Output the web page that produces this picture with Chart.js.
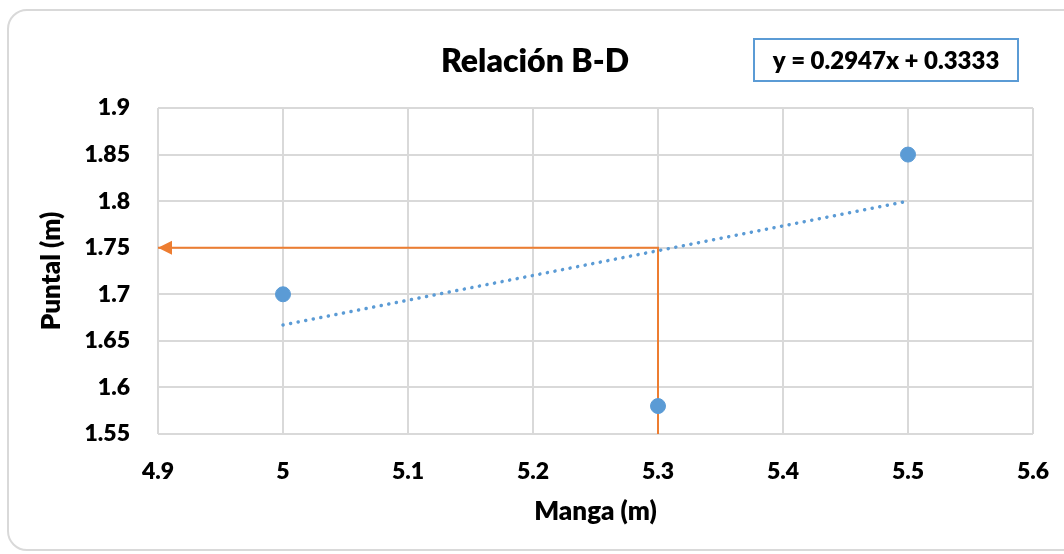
<!DOCTYPE html>
<html>
<head>
<meta charset="utf-8">
<script src="https://cdn.jsdelivr.net/npm/chart.js@4.4.1/dist/chart.umd.min.js"></script>
<style>
  html, body { margin: 0; padding: 0; background: #fff; }
  body { width: 1064px; height: 554px; position: relative; overflow: hidden; }
  #frame {
    position: absolute; left: 7px; top: 9px; width: 1120px; height: 542px;
    border: 2px solid #d9d9d9; border-radius: 20px; box-sizing: border-box;
  }
  #wrap { position: absolute; left: 0; top: 0; width: 1064px; height: 554px; }
</style>
</head>
<body>
<div id="frame"></div>
<div id="wrap"><canvas id="chart" width="1064" height="554"></canvas></div>
<script>
// Measured beam (manga) and depth (puntal) of the reference boats, in metres
const manga = [5.0, 5.3, 5.5];
const puntal = [1.70, 1.58, 1.85];

// Linear trend drawn between the extreme beams
const trendX = [5.0, 5.5];
const trendY = [1.667, 1.80];

// Projection read for a beam of 5.3 m: vertical up to the trend, then across to the depth axis
const projX = [4.9, 5.3, 5.3];
const projY = [1.75, 1.75, 1.55];

const chartTitle = 'Relación B-D';
const equation = 'y = 0.2947x + 0.3333';
const xTitle = 'Manga (m)';
const yTitle = 'Puntal (m)';

const FONT = 'Lato, "Open Sans", sans-serif';
const WEIGHT = '800';
const BLUE = '#5b9bd5';
const ORANGE = '#ed7d31';
const GRID = '#d9d9d9';

const toPoints = (xs, ys) => xs.map((x, i) => ({ x: x, y: ys[i] }));
const fmt = v => String(Number(v.toFixed(2)));

// Title, equation box and the arrowhead on the projection line
const overlay = {
  id: 'overlay',
  afterDatasetsDraw(chart) {
    const ctx = chart.ctx;
    const xs = chart.scales.x, ys = chart.scales.y;

    // arrowhead at the start of the horizontal projection
    const tipX = xs.getPixelForValue(projX[0]);
    const tipY = ys.getPixelForValue(projY[0]);
    ctx.save();
    ctx.fillStyle = ORANGE;
    ctx.beginPath();
    ctx.moveTo(tipX, tipY);
    ctx.lineTo(tipX + 14, tipY - 7);
    ctx.lineTo(tipX + 14, tipY + 7);
    ctx.closePath();
    ctx.fill();
    ctx.restore();
  },
  afterDraw(chart) {
    const ctx = chart.ctx;
    ctx.save();
    ctx.fillStyle = '#000';
    ctx.textAlign = 'center';
    ctx.textBaseline = 'middle';
    ctx.font = WEIGHT + ' 32px ' + FONT;
    ctx.fillText(chartTitle, 535, 62);

    // equation label
    ctx.fillStyle = '#fff';
    ctx.fillRect(754, 39, 264, 42);
    ctx.strokeStyle = BLUE;
    ctx.lineWidth = 2;
    ctx.strokeRect(754, 39, 264, 42);
    ctx.fillStyle = '#000';
    ctx.font = WEIGHT + ' 24px ' + FONT;
    ctx.fillText(equation, 886, 61);
    ctx.restore();
  }
};

new Chart(document.getElementById('chart'), {
  type: 'scatter',
  data: {
    datasets: [
      {
        label: 'Proyección',
        data: toPoints(projX, projY),
        showLine: true,
        borderColor: ORANGE,
        borderWidth: 2,
        pointRadius: 0,
        tension: 0,
        order: 3
      },
      {
        label: 'Tendencia',
        data: toPoints(trendX, trendY),
        showLine: true,
        borderColor: BLUE,
        borderWidth: 3.5,
        borderDash: [0.1, 7.6],
        borderCapStyle: 'round',
        pointRadius: 0,
        order: 2
      },
      {
        label: 'Puntal',
        data: toPoints(manga, puntal),
        backgroundColor: BLUE,
        borderColor: BLUE,
        pointRadius: 7.5,
        pointHoverRadius: 7.5,
        order: 1
      }
    ]
  },
  options: {
    responsive: false,
    animation: false,
    events: [],
    layout: { padding: { left: 0, right: 31, top: 108, bottom: 0 } },
    plugins: {
      legend: { display: false },
      tooltip: { enabled: false },
      title: { display: false }
    },
    scales: {
      x: {
        type: 'linear',
        min: 4.9, max: 5.6,
        afterFit(scale) {
          scale.height = 120;
          scale.paddingLeft = 0;
          scale.paddingRight = 0;
        },
        border: { display: false },
        grid: { color: GRID, lineWidth: 2, drawTicks: false },
        ticks: {
          stepSize: 0.1, padding: 24, color: '#000',
          font: { family: FONT, size: 23, weight: WEIGHT },
          callback: v => fmt(v)
        },
        title: {
          display: true, text: xTitle, color: '#000',
          font: { family: FONT, size: 26, weight: WEIGHT },
          padding: { top: 0, bottom: 27 }
        }
      },
      y: {
        type: 'linear',
        min: 1.55, max: 1.9,
        afterFit(scale) {
          scale.width = 158;
          scale.paddingTop = 0;
          scale.paddingBottom = 0;
        },
        border: { display: false },
        grid: { color: GRID, lineWidth: 2, drawTicks: false },
        ticks: {
          stepSize: 0.05, padding: 28, color: '#000',
          font: { family: FONT, size: 23, weight: WEIGHT },
          callback: v => fmt(v)
        },
        title: {
          display: true, text: yTitle, color: '#000',
          font: { family: FONT, size: 26, weight: WEIGHT },
          padding: { top: 36, bottom: 0 }
        }
      }
    }
  },
  plugins: [overlay]
});
</script>
</body>
</html>
